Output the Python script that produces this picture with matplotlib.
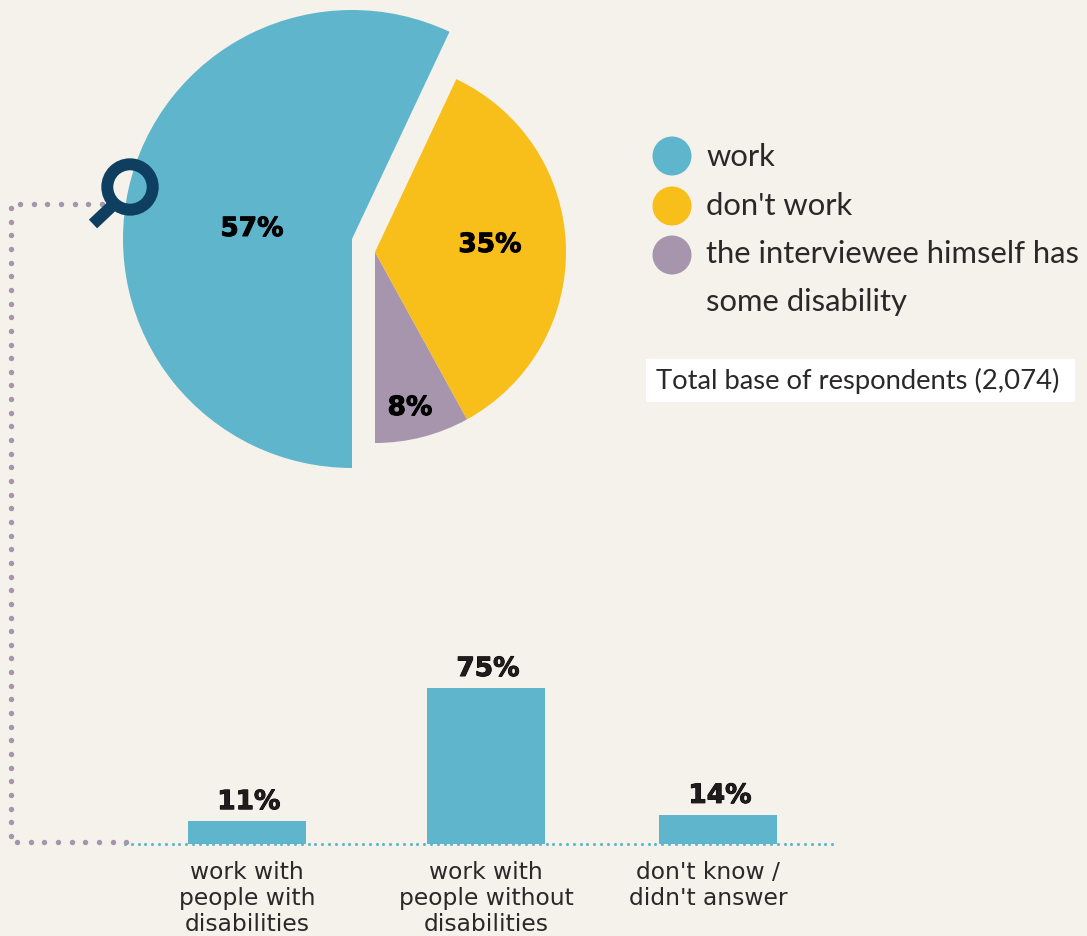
import matplotlib
matplotlib.use('Agg')
import matplotlib.pyplot as plt
from matplotlib.patches import Circle, Rectangle
import matplotlib.patheffects as pe
import numpy as np

W, H = 1087, 937
BG = '#F5F2EB'
TEAL = '#5FB6CC'
YELLOW = '#F8BE1A'
PURPLE = '#A695AC'
NAVY = '#0F3F60'
INK = '#2A2828'

pie_labels = ['work', "don't work", 'the interviewee himself has\nsome disability']
work_share = [57]
other_shares = [8, 35]
total_note = 'Total base of respondents (2,074)'

bar_labels = ['work with\npeople with\ndisabilities',
              'work with\npeople without\ndisabilities',
              "don't know /\ndidn't answer"]
bar_values = [11, 75, 14]

fig = plt.figure(figsize=(W / 100, H / 100), dpi=100, facecolor=BG)
heavy = [pe.withStroke(linewidth=0.7, foreground='black')]

# pies, drawn in a pixel-sized data space
pie_ax = fig.add_axes([0, 0, 1, 1])
pie_ax.pie(np.array(work_share) / 100, normalize=False, colors=[TEAL],
           center=(352, H - 240), radius=229, startangle=64.8)
pie_ax.pie(np.array(other_shares) / 100, normalize=False, colors=[PURPLE, YELLOW],
           center=(375, H - 253), radius=191, startangle=270)
pie_ax.set_xlim(0, W)
pie_ax.set_ylim(0, H)
pie_ax.set_aspect('auto')
pie_ax.axis('off')

# bars: zero sits on the dotted line, 75 at the top of the tallest bar
bar_ax = fig.add_axes([0, 0, 1, 1])
bar_ax.patch.set_alpha(0)
scale = (844 - 688) / 75
bar_ax.set_xlim(0, W)
bar_ax.set_ylim(-(H - 845) / scale, 845 / scale)
bar_ax.axis('off')
centers = [247, 486, 718]
label_x = [247, 486, 708]
bar_ax.bar(centers, bar_values, width=118, color=TEAL, zorder=3)
base_x = np.arange(125, 834, 6.8)
bar_ax.plot(base_x, np.zeros_like(base_x), ls='none', marker='o', ms=2.2, mew=0, color=TEAL, zorder=2)
for x, v in zip(centers, bar_values):
    bar_ax.annotate('%d%%' % v, (x + 2, v), xytext=(0, 6), textcoords='offset pixels',
                    ha='center', va='bottom', fontsize=19, fontweight='bold', color='#1E1C1C',
                    path_effects=heavy)

# overlay in image coordinates
ax = fig.add_axes([0, 0, 1, 1])
ax.patch.set_alpha(0)
ax.set_xlim(0, W)
ax.set_ylim(H - 1, -1)
ax.axis('off')

# dotted connector
dot = dict(ls='none', marker='o', ms=3.9, mew=0, color=PURPLE, zorder=4)
top_x = np.arange(20, 105, 13.65)
left_y = np.arange(208, 836, 13.65)
bottom_x = np.arange(17, 128, 13.65)
ax.plot(top_x, np.full_like(top_x, 203.5), **dot)
ax.plot(np.full_like(left_y, 11), left_y, **dot)
ax.plot(bottom_x, np.full_like(bottom_x, 842), **dot)

# magnifier
ax.plot([93, 111], [224, 207], color=NAVY, lw=8.6, solid_capstyle='butt', zorder=5)
ax.add_patch(Circle((130, 187), 22.7, fill=False, ec=NAVY, lw=8.6, zorder=6))

for txt, x, y in [('%d%%' % work_share[0], 252, 229), ('%d%%' % other_shares[1], 490, 245),
                  ('%d%%' % other_shares[0], 410, 408)]:
    ax.text(x, y, txt, ha='center', va='center', fontsize=19, fontweight='bold', color='black',
            zorder=7, path_effects=heavy)

# legend
for y, c in zip([156, 206, 255], [TEAL, YELLOW, PURPLE]):
    ax.add_patch(Circle((672, y), 19.5, fc=c, ec='none'))
leg_font = dict(family='Lato', fontsize=22.3, color=INK, va='center', ha='left')
ax.text(706, 156, pie_labels[0], **leg_font)
ax.text(706, 205, pie_labels[1], **leg_font)
line1, line2 = pie_labels[2].split('\n')
ax.text(706, 253, line1, **leg_font)
ax.text(706, 301, line2, **leg_font)

ax.add_patch(Rectangle((646, 359), 429, 43, fc='white', ec='none'))
ax.text(656, 380, total_note, family='Lato', fontsize=19.7, color=INK, va='center', ha='left')

for x, txt in zip(label_x, bar_labels):
    ax.text(x, 860, txt, ha='center', va='top', fontsize=16.8, color=INK, linespacing=1.17,
            clip_on=False)

fig.savefig('out.png', dpi=100, facecolor=BG)
